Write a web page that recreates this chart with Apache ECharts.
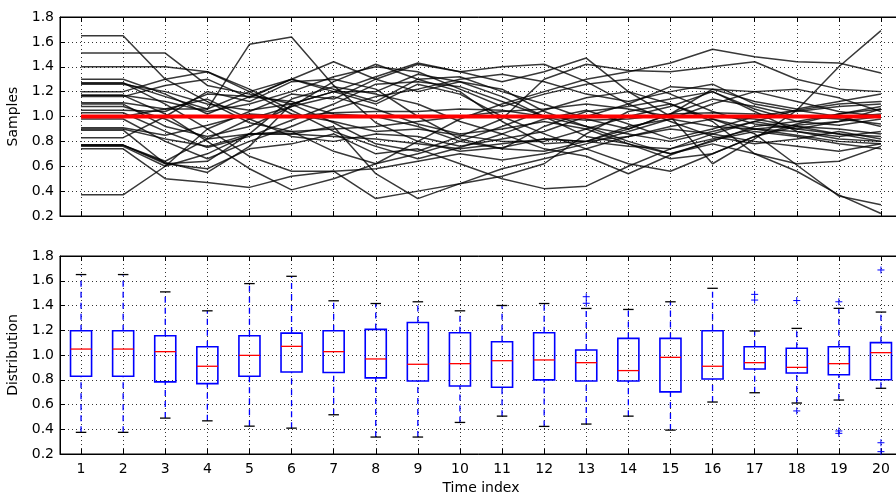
<!DOCTYPE html>
<html>
<head>
<meta charset="utf-8">
<script src="https://cdn.jsdelivr.net/npm/echarts@6/dist/echarts.min.js"></script>
<style>
    html, body { margin: 0; padding: 0; background: #fff; }
    #chart { width: 896px; height: 498px; }
</style>
</head>
<body>
<div id="chart"></div>
<script>
// time axis
var timeIndex = ['1','2','3','4','5','6','7','8','9','10','11','12','13','14','15','16','17','18','19','20'];

// sample paths (top panel)
var samples = [
    [1.65,1.65,1.30,1.12,0.95,0.88,0.72,0.62,0.70,0.80,0.92,1.05,1.15,1.20,1.10,0.98,0.90,0.85,0.80,0.78],
    [1.51,1.51,1.51,1.25,1.18,1.10,0.95,0.78,0.72,0.84,0.98,1.30,1.42,1.37,1.36,1.40,1.44,1.30,1.22,1.20],
    [1.40,1.40,1.40,1.36,1.22,1.05,0.88,0.76,0.66,0.75,0.86,0.98,1.05,0.94,0.82,0.90,1.00,1.05,1.00,0.92],
    [1.30,1.30,1.18,1.02,1.16,1.30,1.44,1.30,1.20,1.28,1.22,1.04,0.92,0.80,0.70,0.80,0.92,0.96,1.02,1.08],
    [1.27,1.27,1.10,0.90,0.68,0.56,0.56,0.58,0.64,0.70,0.65,0.70,0.78,0.88,0.98,1.10,1.20,1.22,1.15,1.04],
    [1.26,1.26,1.20,1.10,1.05,1.10,1.20,1.32,1.43,1.36,1.40,1.42,1.28,1.10,0.96,0.84,0.78,0.82,0.88,0.82],
    [1.20,1.20,1.30,1.36,1.20,1.02,0.96,0.88,0.90,0.85,0.80,0.80,0.90,1.00,1.08,1.20,1.06,0.96,0.93,0.98],
    [1.17,1.17,1.02,0.80,0.58,0.41,0.50,0.62,0.80,0.98,1.10,1.20,1.30,1.36,1.43,1.54,1.48,1.44,1.43,1.35],
    [1.16,1.16,1.25,1.30,1.15,1.30,1.20,1.10,1.26,1.18,1.00,0.86,0.74,0.62,0.56,0.70,0.84,0.94,1.02,1.06],
    [1.11,1.11,1.06,1.06,1.58,1.64,1.25,0.95,0.80,0.72,0.75,0.82,0.80,0.92,0.98,0.92,0.90,0.93,0.96,1.00],
    [1.10,1.10,0.92,0.84,0.92,1.08,1.28,1.42,1.30,1.20,0.96,0.78,0.80,0.90,1.02,1.14,1.08,1.00,0.98,0.94],
    [1.08,1.08,0.98,0.82,0.86,0.88,0.90,0.92,0.96,1.00,1.04,1.06,1.10,1.06,1.00,1.00,0.98,0.92,0.86,0.80],
    [1.05,1.05,1.04,1.18,1.16,1.12,1.02,1.00,0.92,0.80,0.74,0.92,1.04,1.08,1.14,1.20,1.04,0.88,0.84,0.88],
    [1.03,1.03,0.88,0.75,0.84,0.97,1.10,1.26,1.28,1.24,1.12,1.00,0.92,0.86,0.80,0.88,0.96,1.05,1.10,1.12],
    [0.98,0.98,0.80,0.66,0.80,0.92,1.06,1.16,1.22,1.30,1.34,1.28,1.18,1.12,1.20,1.26,1.10,1.04,1.08,1.10],
    [0.91,0.91,0.85,0.93,1.02,1.00,1.03,1.04,1.04,1.06,1.05,1.00,0.97,0.98,1.02,1.03,1.02,1.00,0.99,1.02],
    [0.90,0.90,0.82,0.76,0.86,0.86,0.84,0.82,0.78,0.74,0.78,0.82,0.80,0.76,0.74,0.82,0.90,0.88,0.82,0.80],
    [0.89,0.89,0.62,0.64,0.86,1.14,1.24,1.18,1.10,0.96,0.86,0.74,0.68,0.54,0.69,0.81,0.88,0.84,0.78,0.74],
    [0.83,0.83,1.00,1.20,1.12,1.28,1.30,1.22,1.00,0.82,0.74,0.72,0.80,0.84,0.90,0.86,0.80,0.76,0.72,0.78],
    [0.77,0.77,0.63,0.55,0.76,1.10,1.20,1.20,1.34,1.28,1.16,1.00,0.84,0.78,0.70,0.78,0.70,0.62,0.64,0.76],
    [0.77,0.77,0.62,0.58,0.74,0.78,0.86,0.70,0.74,0.62,0.50,0.42,0.44,0.60,0.74,0.86,0.96,0.90,0.86,0.84],
    [0.76,0.76,0.60,0.70,0.86,0.86,0.92,0.54,0.34,0.46,0.52,0.62,0.86,1.04,1.10,0.96,0.70,0.56,0.37,0.22],
    [0.74,0.74,0.50,0.47,0.43,0.52,0.56,0.34,0.40,0.46,0.58,0.66,0.74,0.84,0.92,0.98,0.86,0.61,0.36,0.29],
    [0.37,0.37,0.60,0.90,1.04,1.18,1.14,1.30,1.42,1.36,1.28,1.36,1.47,1.20,1.00,0.62,0.82,1.05,1.40,1.69],
    [1.27,1.27,1.16,1.06,1.20,1.30,1.22,1.12,1.30,1.32,1.20,1.10,0.98,0.90,1.02,1.22,1.20,1.12,1.04,1.00],
    [1.17,1.17,1.12,1.04,1.10,1.20,1.32,1.40,1.36,1.22,1.08,1.18,1.26,1.30,1.18,1.04,0.94,0.90,0.96,1.06],
    [0.77,0.77,0.64,0.82,0.98,1.08,1.16,1.06,0.94,0.86,0.90,0.96,0.90,0.78,0.66,0.70,0.84,0.92,0.90,0.86],
    [1.00,1.00,1.06,1.14,0.98,0.84,0.80,0.86,0.84,0.76,0.82,0.88,1.00,1.10,1.24,1.22,1.12,1.06,1.12,1.18]
];
var trueValue = [1,1,1,1,1,1,1,1,1,1,1,1,1,1,1,1,1,1,1,1];

// box statistics (bottom panel)
var whiskerLow  = [0.375,0.375,0.49,0.468,0.425,0.409,0.517,0.337,0.337,0.455,0.506,0.423,0.442,0.506,0.393,0.62,0.695,0.612,0.636,0.731];
var quart1      = [0.828,0.828,0.783,0.769,0.828,0.863,0.858,0.815,0.79,0.75,0.74,0.799,0.79,0.79,0.702,0.806,0.887,0.854,0.841,0.80];
var median      = [1.048,1.048,1.027,0.909,0.997,1.07,1.027,0.968,0.925,0.93,0.954,0.96,0.938,0.874,0.981,0.909,0.938,0.90,0.93,1.019];
var quart3      = [1.196,1.196,1.156,1.067,1.156,1.177,1.196,1.207,1.263,1.18,1.107,1.18,1.04,1.134,1.134,1.196,1.067,1.054,1.067,1.10];
var whiskerHigh = [1.65,1.65,1.51,1.357,1.577,1.636,1.438,1.416,1.43,1.357,1.40,1.416,1.376,1.368,1.43,1.539,1.194,1.215,1.377,1.347];
// fliers: [time position, value]
var fliers = [[12,1.418],[12,1.471],[16,1.444],[16,1.49],[17,1.44],[17,0.548],[18,1.43],[18,0.386],[18,0.367],[19,1.687],[19,0.291],[19,0.219]];

var yTicksMin = 0.2, yTicksMax = 1.8, yTicksStep = 0.2;

var chart = echarts.init(document.getElementById('chart'));

var font = 'DejaVu Sans';
var gridLine = { show: true, lineStyle: { color: '#333', type: [1, 3], width: 1 } };

function xAxisOf(gridIndex, pos, labels) {
    return {
        type: 'category',
        gridIndex: gridIndex,
        position: pos,
        data: timeIndex,
        boundaryGap: true,
        axisLine: { show: true, lineStyle: { color: '#000', width: 1 } },
        axisTick: { show: true, inside: true, length: 5, interval: 0, alignWithLabel: true, lineStyle: { color: '#000' } },
        axisLabel: { show: labels, interval: 0, color: '#000', fontFamily: font, fontSize: 14, margin: 8 },
        splitLine: pos === 'bottom' ? { show: true, interval: 0, alignWithLabel: true, lineStyle: gridLine.lineStyle } : { show: false }
    };
}

function yAxisOf(gridIndex, name) {
    return {
        type: 'value',
        gridIndex: gridIndex,
        min: yTicksMin,
        max: yTicksMax,
        interval: yTicksStep,
        name: name,
        nameLocation: 'middle',
        nameGap: 36,
        nameTextStyle: { color: '#000', fontFamily: font, fontSize: 14 },
        axisLine: { show: true, lineStyle: { color: '#000', width: 1 } },
        axisTick: { show: true, inside: true, length: 5, lineStyle: { color: '#000' } },
        axisLabel: {
            color: '#000', fontFamily: font, fontSize: 14, margin: 6,
            formatter: function (v) { return v.toFixed(1); }
        },
        splitLine: gridLine
    };
}

// box + whiskers + caps + median
function renderBox(params, api) {
    var i = api.value(0);
    var lo = api.coord([i, api.value(1)]);
    var b1 = api.coord([i, api.value(2)]);
    var md = api.coord([i, api.value(3)]);
    var b3 = api.coord([i, api.value(4)]);
    var hi = api.coord([i, api.value(5)]);
    var w = api.size([1, 0])[0] * 0.5;
    var c = w / 2;
    var x = lo[0];
    var dash = { stroke: '#0000ff', lineWidth: 1.3, lineDash: [6, 5] };
    return {
        type: 'group',
        children: [
            { type: 'line', shape: { x1: x, y1: lo[1], x2: x, y2: b1[1] }, style: dash },
            { type: 'line', shape: { x1: x, y1: b3[1], x2: x, y2: hi[1] }, style: dash },
            { type: 'line', shape: { x1: x - c / 2, y1: lo[1], x2: x + c / 2, y2: lo[1] }, style: { stroke: '#000', lineWidth: 1.3 } },
            { type: 'line', shape: { x1: x - c / 2, y1: hi[1], x2: x + c / 2, y2: hi[1] }, style: { stroke: '#000', lineWidth: 1.3 } },
            { type: 'rect', shape: { x: x - w / 2, y: b3[1], width: w, height: b1[1] - b3[1] }, style: { fill: 'none', stroke: '#0000ff', lineWidth: 1.6 } },
            { type: 'line', shape: { x1: x - w / 2, y1: md[1], x2: x + w / 2, y2: md[1] }, style: { stroke: '#ff0000', lineWidth: 1.3 } }
        ]
    };
}

function renderFlier(params, api) {
    var p = api.coord([api.value(0), api.value(1)]);
    var s = 3.5;
    var st = { stroke: '#0000ff', lineWidth: 1 };
    return {
        type: 'group',
        children: [
            { type: 'line', shape: { x1: p[0] - s, y1: p[1], x2: p[0] + s, y2: p[1] }, style: st },
            { type: 'line', shape: { x1: p[0], y1: p[1] - s, x2: p[0], y2: p[1] + s }, style: st }
        ]
    };
}

var series = [];
samples.forEach(function (path) {
    series.push({
        type: 'line',
        xAxisIndex: 0, yAxisIndex: 0,
        data: path,
        symbol: 'none',
        silent: true,
        lineStyle: { color: 'rgba(0,0,0,0.78)', width: 1.5 },
        z: 2
    });
});
series.push({
    type: 'line',
    xAxisIndex: 0, yAxisIndex: 0,
    data: trueValue,
    symbol: 'none',
    lineStyle: { color: '#ff0000', width: 4 },
    z: 5
});
series.push({
    type: 'custom',
    xAxisIndex: 2, yAxisIndex: 1,
    renderItem: renderBox,
    encode: { x: 0, y: [1, 2, 3, 4, 5] },
    data: timeIndex.map(function (t, i) {
        return [i, whiskerLow[i], quart1[i], median[i], quart3[i], whiskerHigh[i]];
    }),
    z: 3
});
series.push({
    type: 'custom',
    xAxisIndex: 2, yAxisIndex: 1,
    renderItem: renderFlier,
    encode: { x: 0, y: 1 },
    data: fliers,
    z: 3
});

var option = {
    backgroundColor: '#fff',
    animation: false,
    grid: [
        { left: 60, top: 17, width: 842, height: 199, outerBoundsMode: 'none', show: true, borderColor: '#000', borderWidth: 1, backgroundColor: 'transparent' },
        { left: 60, top: 256, width: 842, height: 198, outerBoundsMode: 'none', show: true, borderColor: '#000', borderWidth: 1, backgroundColor: 'transparent' }
    ],
    xAxis: [
        xAxisOf(0, 'bottom', false),
        xAxisOf(0, 'top', false),
        Object.assign(xAxisOf(1, 'bottom', true), {
            name: 'Time index',
            nameLocation: 'middle',
            nameGap: 27,
            nameTextStyle: { color: '#000', fontFamily: font, fontSize: 14 }
        }),
        xAxisOf(1, 'top', false)
    ],
    yAxis: [
        yAxisOf(0, 'Samples'),
        yAxisOf(1, 'Distribution')
    ],
    series: series
};

chart.setOption(option);
</script>
</body>
</html>
